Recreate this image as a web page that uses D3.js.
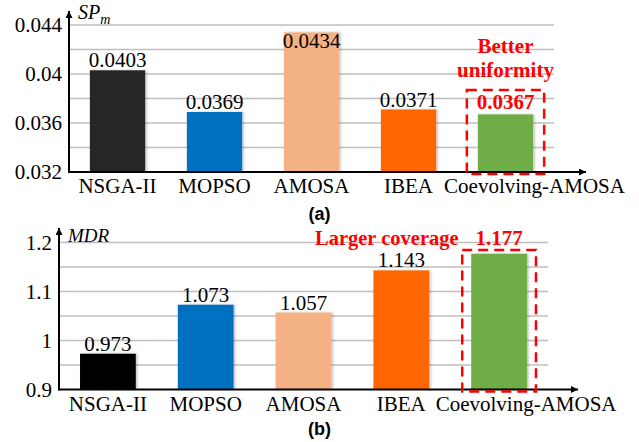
<!DOCTYPE html>
<html>
<head>
<meta charset="utf-8">
<script src="https://cdn.jsdelivr.net/npm/d3@7"></script>
<style>
  html, body { margin: 0; padding: 0; background: #fff; }
  svg { display: block; }
</style>
</head>
<body>
<svg id="chart" width="639" height="442"></svg>
<script>
// Algorithms compared in both panels
const categories = ["NSGA-II", "MOPSO", "AMOSA", "IBEA", "Coevolving-AMOSA"];

// Panel (a): spacing metric SP_m (lower is better)
const spValues = [0.0403, 0.0369, 0.0434, 0.0371, 0.0367];
const spTickLabels = [0.032, 0.036, 0.04, 0.044];
const spGridValues = [0.034, 0.036, 0.038, 0.04, 0.042, 0.044];

// Panel (b): maximum spread MDR (higher is better)
const mdrValues = [0.973, 1.073, 1.057, 1.143, 1.177];
const mdrTickLabels = [0.9, 1, 1.1, 1.2];
const mdrGridValues = [0.95, 1.0, 1.05, 1.1, 1.15, 1.2];

const colorsA = ["#262626", "#0070C0", "#F4B183", "#FF6600", "#70AD47"];
const colorsB = ["#000000", "#0070C0", "#F4B183", "#FF6600", "#70AD47"];

const svg = d3.select("#chart");
const serif = "'Liberation Serif', 'Times New Roman', serif";
const sans = "'Liberation Sans', Arial, sans-serif";
const RED = "#FF0000";
const FS = 21;

const defs = svg.append("defs");
defs.append("marker")
  .attr("id", "arrow")
  .attr("viewBox", "0 0 10 10")
  .attr("refX", 10).attr("refY", 5)
  .attr("markerWidth", 7).attr("markerHeight", 7)
  .attr("markerUnits", "userSpaceOnUse")
  .attr("orient", "auto")
  .append("path").attr("d", "M0,0 L10,5 L0,10 Z").attr("fill", "#000");
const shadow = defs.append("filter").attr("id", "shadow")
  .attr("x", "-10%").attr("y", "-10%").attr("width", "130%").attr("height", "130%");
shadow.append("feDropShadow").attr("dx", 1.5).attr("dy", 0).attr("stdDeviation", 1.2)
  .attr("flood-color", "#000").attr("flood-opacity", 0.25);

function drawPanel(cfg) {
  const g = svg.append("g");
  const x = d3.scaleBand().domain(categories)
    .range([cfg.left, cfg.right]).paddingInner(0.43).paddingOuter(0.215);
  const y = d3.scaleLinear().domain(cfg.domain).range([cfg.bottom, cfg.top]);
  const lastIdx = categories.length - 1;

  // horizontal gridlines
  g.selectAll("line.grid").data(cfg.grid).join("line")
    .attr("x1", cfg.left).attr("x2", cfg.right)
    .attr("y1", d => y(d)).attr("y2", d => y(d))
    .attr("stroke", "#BFBFBF").attr("stroke-width", 1.5);

  // tick labels on the y axis
  g.selectAll("text.tick").data(cfg.ticks).join("text")
    .attr("x", cfg.left - cfg.tickGap).attr("y", d => y(d))
    .attr("dy", "0.34em").attr("text-anchor", "end")
    .attr("font-family", serif).attr("font-size", FS).attr("fill", "#000")
    .text(cfg.tickFormat);

  // bars
  g.selectAll("rect.bar").data(cfg.values).join("rect")
    .attr("x", (d, i) => x(categories[i]))
    .attr("width", x.bandwidth())
    .attr("y", d => y(d))
    .attr("height", d => cfg.bottom - y(d))
    .attr("fill", (d, i) => cfg.colors[i])
    .attr("filter", "url(#shadow)");

  // value labels: above the bar, or just inside it when the bar nearly fills the plot
  const labelY = (d, i) => {
    if (i === lastIdx && cfg.lastLabelY != null) return cfg.lastLabelY;
    return y(d) - cfg.top < 12 ? y(d) + 16 : y(d) - 3;
  };
  g.selectAll("text.val").data(cfg.values).join("text")
    .attr("x", (d, i) => x(categories[i]) + x.bandwidth() / 2)
    .attr("y", labelY)
    .attr("text-anchor", "middle")
    .attr("font-family", serif).attr("font-size", FS)
    .attr("font-weight", (d, i) => i === lastIdx ? "bold" : "normal")
    .attr("fill", (d, i) => i === lastIdx ? RED : "#000")
    .text(cfg.valueFormat);

  // category labels (the long last name sits a little to the right)
  g.selectAll("text.cat").data(categories).join("text")
    .attr("x", (d, i) => x(d) + x.bandwidth() / 2 + (i === lastIdx ? cfg.lastCatShift : 0))
    .attr("y", cfg.bottom + 21)
    .attr("text-anchor", "middle")
    .attr("font-family", serif).attr("font-size", FS).attr("fill", "#000")
    .text(d => d);

  // axes with arrowheads
  g.append("line")
    .attr("x1", cfg.left).attr("x2", cfg.left)
    .attr("y1", cfg.bottom + 1).attr("y2", cfg.arrowTop)
    .attr("stroke", "#000").attr("stroke-width", 2).attr("marker-end", "url(#arrow)");
  g.append("line")
    .attr("x1", cfg.left - 1).attr("x2", cfg.arrowRight)
    .attr("y1", cfg.bottom).attr("y2", cfg.bottom)
    .attr("stroke", "#000").attr("stroke-width", 2).attr("marker-end", "url(#arrow)");

  // dashed highlight around the proposed method
  const last = categories[lastIdx];
  g.append("rect")
    .attr("x", x(last) - cfg.boxPad).attr("width", x.bandwidth() + 2 * cfg.boxPad)
    .attr("y", cfg.boxTop).attr("height", cfg.bottom + 2 - cfg.boxTop)
    .attr("fill", "none").attr("stroke", RED).attr("stroke-width", 2.5)
    .attr("stroke-dasharray", "10,6");

  return { g, x, y };
}

// Panel (a)
const pa = drawPanel({
  left: 69, right: 554, top: 25, bottom: 172,
  domain: [0.032, 0.044], grid: spGridValues, ticks: spTickLabels,
  tickGap: 7, tickFormat: d => d3.format(".3~f")(d),
  values: spValues, colors: colorsA, valueFormat: d => d3.format(".4f")(d),
  lastLabelY: 109, arrowTop: 11, arrowRight: 586,
  boxTop: 90, boxPad: 11, lastCatShift: 29
});
pa.g.append("text").attr("x", 78).attr("y", 19)
  .attr("font-family", serif).attr("font-style", "italic").attr("font-size", 20)
  .text("SP")
  .append("tspan").attr("dy", 5).attr("font-size", 14).text("m");
const betterX = pa.x(categories[4]) + pa.x.bandwidth() / 2;
pa.g.append("text").attr("x", betterX).attr("y", 53).attr("text-anchor", "middle")
  .attr("font-family", serif).attr("font-weight", "bold").attr("font-size", FS)
  .attr("fill", RED).text("Better");
pa.g.append("text").attr("x", betterX).attr("y", 77).attr("text-anchor", "middle")
  .attr("font-family", serif).attr("font-weight", "bold").attr("font-size", FS)
  .attr("fill", RED).text("uniformity");
svg.append("text").attr("x", 319.5).attr("y", 220).attr("text-anchor", "middle")
  .attr("font-family", sans).attr("font-weight", "bold")
  .attr("font-size", 18).text("(a)");

// Panel (b)
const pb = drawPanel({
  left: 59, right: 548, top: 242.5, bottom: 389.5,
  domain: [0.9, 1.2], grid: mdrGridValues, ticks: mdrTickLabels,
  tickGap: 7, tickFormat: d => d3.format(".1~f")(d),
  values: mdrValues, colors: colorsB, valueFormat: d => d3.format(".3f")(d),
  lastLabelY: 245, arrowTop: 228, arrowRight: 578,
  boxTop: 250, boxPad: 9, lastCatShift: 27
});
pb.g.append("text").attr("x", 68).attr("y", 242)
  .attr("font-family", serif).attr("font-style", "italic").attr("font-size", 19)
  .text("MDR");
pb.g.append("text").attr("x", 315).attr("y", 245)
  .attr("font-family", serif).attr("font-weight", "bold").attr("font-size", 20.5)
  .attr("fill", RED).text("Larger coverage");
svg.append("text").attr("x", 319.5).attr("y", 435).attr("text-anchor", "middle")
  .attr("font-family", sans).attr("font-weight", "bold")
  .attr("font-size", 18).text("(b)");
</script>
</body>
</html>
